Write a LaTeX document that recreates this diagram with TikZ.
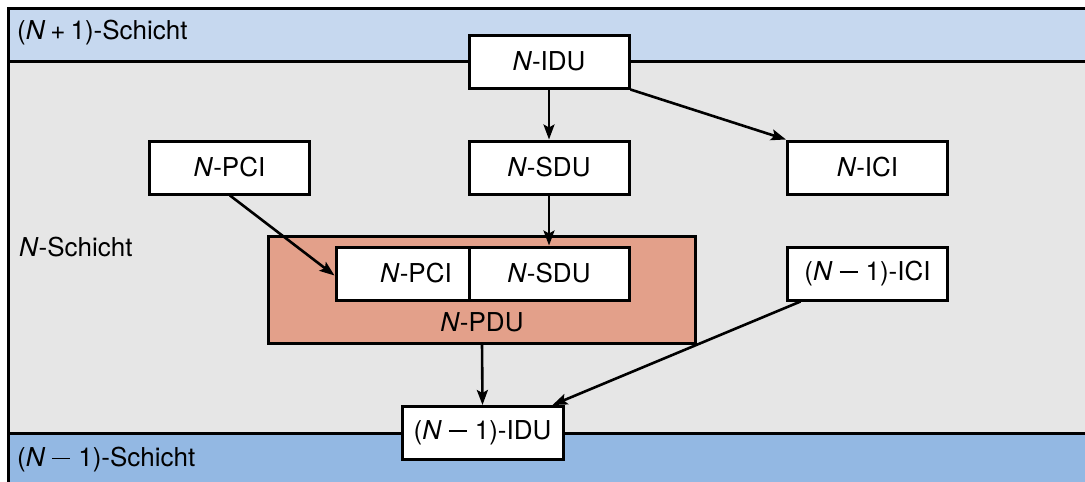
\documentclass[tikz,border=0pt]{standalone}
\usepackage{fontspec}
\setmainfont{TeX Gyre Heros}
\usetikzlibrary{arrows.meta}
\definecolor{topband}{HTML}{C6D8EF}
\definecolor{midband}{HTML}{E6E6E6}
\definecolor{botband}{HTML}{93B8E3}
\definecolor{pdufill}{HTML}{E3A08A}
\newcommand{\NN}{\textit{N}}
\newcommand{\mminus}{\kern7pt\rule[0.3em]{18pt}{1.5pt}\kern8pt}
\newcommand{\mplus}{\kern5pt+\kern5pt}
\begin{document}
\begin{tikzpicture}[x=1pt,y=-1pt,
  every node/.style={font=\fontsize{26}{30}\selectfont, inner sep=0pt},
  band/.style={draw=black, line width=3pt},
  box/.style={draw=black, fill=white, line width=3pt, minimum width=160pt, minimum height=53pt},
  arr/.style={line width=2.6pt, -{Stealth[length=15pt,width=11pt,inset=3pt]}}]
\clip (0,0) rectangle (1085,482);
\fill[white] (0,0) rectangle (1085,482);
% bands
\draw[band, fill=topband] (8,8) rectangle (1100,61);
\draw[band, fill=midband] (8,61) rectangle (1100,433);
\draw[band, fill=botband] (8,433) rectangle (1100,500);
\node[anchor=west] (lupper) at (17,33) {(\NN\mplus 1)-Schicht};
\node[anchor=west] (lmid) at (19,247) {\NN-Schicht};
\node[anchor=west] (llower) at (17,460) {(\NN\mminus 1)-Schicht};
% PDU
\draw[band, fill=pdufill] (268,236) rectangle (695,343);
\node (lpdu) at (482,322) {\NN-PDU};
% boxes
\node[box] (idu) at (549,61.5) {\NN-IDU};
\node[box] (sdu) at (549,167.5) {\NN-SDU};
\node[box] (pci) at (229.5,167.5) {\NN-PCI};
\node[box] (ici) at (867.5,167.5) {\NN-ICI};
\node[box, minimum width=133pt] (ipci) at (402.5,273.5) {};
\node (lipci) at (416,273.5) {\NN-PCI};
\node[box] (isdu) at (549,273.5) {\NN-SDU};
\node[box] (mici) at (867.5,273.5) {(\NN\mminus 1)-ICI};
\node[box, minimum width=161pt] (midu) at (482.5,433) {(\NN\mminus 1)-IDU};
% arrows
\draw[arr] (idu.south) -- (sdu.north);
\draw[arr] (idu.south east) -- (ici.north west);
\draw[arr] (sdu.south) -- (isdu.north);
\draw[arr] ([xshift=0.5pt]pci.south) -- ([yshift=-2pt]ipci.west);
\draw[arr] (lpdu.south |- 482,343) -- (midu.north);
\draw[arr] ([xshift=-67pt]mici.south) -- ([xshift=-12pt]midu.north east);
\end{tikzpicture}
\end{document}
